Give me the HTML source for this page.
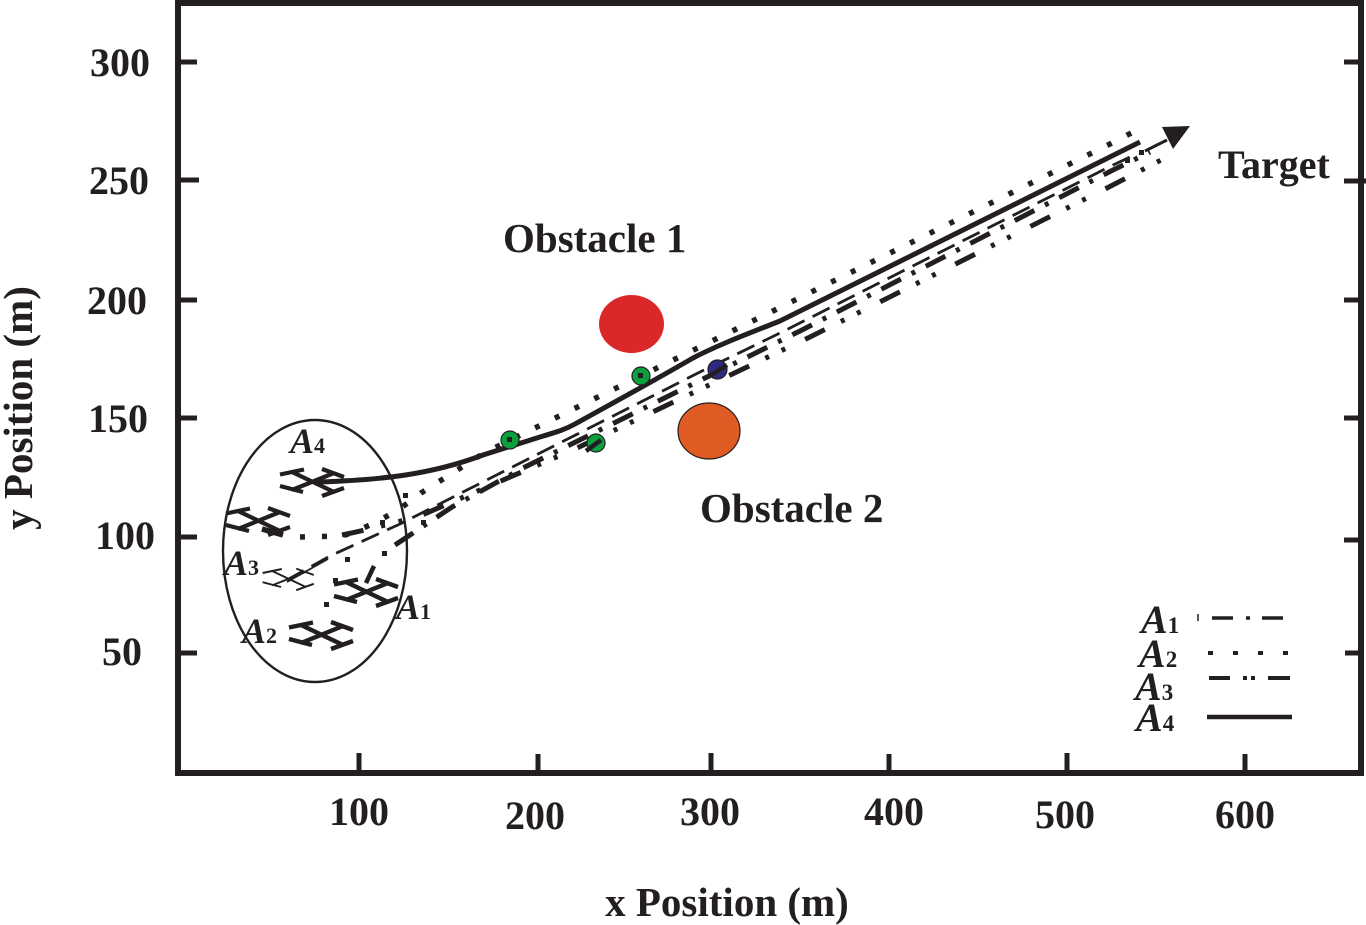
<!DOCTYPE html>
<html>
<head>
<meta charset="utf-8">
<style>
  html, body { margin:0; padding:0; background:#fff; }
  svg { display:block; }
  text { font-family: "Liberation Serif", "Times New Roman", serif; fill:#231f20; }
  .b { font-weight:bold; }
</style>
</head>
<body>
<svg width="1366" height="925" viewBox="0 0 1366 925" xmlns="http://www.w3.org/2000/svg">
  <defs>
    <g id="plane" stroke="#231f20" stroke-linecap="butt" fill="none">
      <line x1="-21" y1="-10" x2="21" y2="10"/>
      <line x1="-21" y1="8" x2="21" y2="-9"/>
      <line x1="-33" y1="-7.5" x2="-9" y2="-12.5"/>
      <line x1="9" y1="-13" x2="31" y2="-5"/>
      <line x1="-33" y1="4" x2="-10" y2="10"/>
      <line x1="9" y1="14" x2="31" y2="6"/>
    </g>
  </defs>

  <!-- frame -->
  <rect x="178" y="3" width="1183" height="770" fill="none" stroke="#231f20" stroke-width="6"/>

  <!-- ticks -->
  <g stroke="#231f20" stroke-width="5">
    <line x1="181" y1="62" x2="197" y2="62"/>
    <line x1="181" y1="180" x2="199" y2="180"/>
    <line x1="181" y1="300" x2="197" y2="300"/>
    <line x1="181" y1="418" x2="197" y2="418"/>
    <line x1="181" y1="537" x2="197" y2="537"/>
    <line x1="181" y1="653" x2="197" y2="653"/>
    <line x1="1344" y1="62" x2="1358" y2="62"/>
    <line x1="1344" y1="181" x2="1366" y2="181"/>
    <line x1="1344" y1="300" x2="1358" y2="300"/>
    <line x1="1344" y1="418" x2="1358" y2="418"/>
    <line x1="1344" y1="540" x2="1358" y2="540"/>
    <line x1="1345" y1="653" x2="1358" y2="653"/>
    <line x1="359" y1="770" x2="359" y2="753"/>
    <line x1="538" y1="770" x2="538" y2="754"/>
    <line x1="711" y1="770" x2="711" y2="753"/>
    <line x1="889" y1="770" x2="889" y2="754"/>
    <line x1="1067" y1="770" x2="1067" y2="753"/>
    <line x1="1245" y1="770" x2="1245" y2="754"/>
  </g>

  <!-- y tick labels -->
  <g font-size="40" text-anchor="end">
    <text x="150" y="76" class="b">300</text>
    <text x="149" y="194" class="b">250</text>
    <text x="147" y="314" class="b">200</text>
    <text x="148" y="432" class="b">150</text>
    <text x="155" y="549" class="b">100</text>
    <text x="142" y="665" class="b">50</text>
  </g>
  <!-- x tick labels -->
  <g font-size="40" text-anchor="middle">
    <text x="359" y="825" class="b">100</text>
    <text x="535" y="829" class="b">200</text>
    <text x="710" y="825" class="b">300</text>
    <text x="894" y="825" class="b">400</text>
    <text x="1065" y="828" class="b">500</text>
    <text x="1245" y="828" class="b">600</text>
  </g>

  <!-- axis titles -->
  <text x="727" y="916" font-size="41" text-anchor="middle" class="b">x Position (m)</text>
  <text transform="translate(32,408) rotate(-90)" font-size="41" text-anchor="middle" class="b">y Position (m)</text>

  <!-- obstacles -->
  <ellipse cx="631.5" cy="324" rx="32.5" ry="29" fill="#da2727"/>
  <ellipse cx="709" cy="431" rx="31" ry="28" fill="#e05a23" stroke="#231f20" stroke-width="1.2"/>
  <text x="503" y="252" font-size="41" class="b">Obstacle 1</text>
  <text x="700" y="522" font-size="41" class="b">Obstacle 2</text>
  <text x="1218" y="178" font-size="40" class="b">Target</text>

  <!-- ellipse around start -->
  <ellipse cx="315" cy="551" rx="92" ry="131" fill="none" stroke="#231f20" stroke-width="2.4"/>

  <!-- A2 dotted trajectory -->
  <path d="M 300,537 L 342,536 Q 385,522 421,493 L 484,453 L 775,310 L 1112,143 L 1135,131"
        fill="none" stroke="#231f20" stroke-width="5.5" stroke-dasharray="5 17"/>

  <!-- thin dashed trajectory -->
  <path d="M 287,580 L 330,556 L 400,524 L 538,454 L 700,372 L 782,332 L 1109,167 L 1130,157"
        fill="none" stroke="#231f20" stroke-width="2.8" stroke-dasharray="19 9"/>
  <line x1="287" y1="582" x2="328" y2="559" stroke="#231f20" stroke-width="1.8"/>

  <!-- A1 dash-dot trajectory -->
  <path d="M 395,545 L 452,507 L 523,468 L 800,331 L 1113,170 L 1150,152"
        fill="none" stroke="#231f20" stroke-width="5" stroke-dasharray="22 12 4 12"/>
  <line x1="366" y1="583" x2="374" y2="566" stroke="#231f20" stroke-width="4.5"/>

  <!-- A3 dash-dot-dot trajectory -->
  <path d="M 342,535 Q 385,526 422,515 L 575,449 L 810,337 L 1107,188 L 1165,158"
        fill="none" stroke="#231f20" stroke-width="5" stroke-dasharray="22 18 4 14 4 22"/>

  <!-- A4 solid trajectory -->
  <path d="M 318,482 C 380,480 430,475 483,455 L 540,437 C 560,431 566,429 575,424 C 600,410 650,383 693,358 C 720,344 750,333 780,321 L 1140,142"
        fill="none" stroke="#231f20" stroke-width="5"/>
  <line x1="1145" y1="151" x2="1167" y2="140" stroke="#231f20" stroke-width="3"/>

  <!-- scattered dots near start -->
  <g fill="#231f20">
    <rect x="324" y="602" width="5" height="5"/>
    <rect x="333" y="578" width="5" height="5"/>
    <rect x="345" y="557" width="5" height="5"/>
    <rect x="382" y="551" width="5" height="5"/>
    <rect x="380" y="520" width="5" height="5"/>
    <rect x="403" y="493" width="5" height="5"/>
    <rect x="421" y="520" width="5" height="5"/>
    <rect x="1125" y="158" width="5" height="5"/>
    <rect x="1139" y="150" width="5" height="5"/>
  </g>
  <line x1="262" y1="529" x2="283" y2="535" stroke="#231f20" stroke-width="5.5"/>

  <!-- arrow head at target -->
  <polygon points="1162,127 1190,126 1173,149" fill="#231f20"/>

  <!-- waypoint circles -->
  <g stroke="#231f20" stroke-width="1.2">
    <circle cx="510" cy="440" r="9" fill="#0aa03e"/>
    <circle cx="641" cy="376" r="9" fill="#0aa03e"/>
    <circle cx="596" cy="443" r="9" fill="#0aa03e"/>
    <circle cx="717.5" cy="369.5" r="9.5" fill="#2d2a82"/>
  </g>
  <g fill="#231f20">
    <rect x="507" y="437" width="5" height="5"/>
    <rect x="638" y="373" width="5" height="5"/>
    <line x1="586" y1="451" x2="601" y2="440" stroke="#231f20" stroke-width="4.5"/>
    <line x1="708" y1="377" x2="727" y2="365" stroke="#231f20" stroke-width="4.5"/>
  </g>

  <!-- planes -->
  <use href="#plane" x="313" y="482" stroke-width="4.2"/>
  <use href="#plane" x="259" y="521" stroke-width="4.2"/>
  <g transform="translate(289,579) scale(0.8)"><use href="#plane" stroke-width="2.4"/></g>
  <use href="#plane" x="367" y="592" stroke-width="4.4"/>
  <use href="#plane" x="322" y="635" stroke-width="4.4"/>

  <!-- in-plot labels -->
  <text x="290" y="453" font-weight="bold"><tspan font-style="italic" font-size="36">A</tspan><tspan font-size="22">4</tspan></text>
  <text x="224" y="575" font-weight="bold"><tspan font-style="italic" font-size="36">A</tspan><tspan font-size="22">3</tspan></text>
  <text x="396" y="619" font-weight="bold"><tspan font-style="italic" font-size="36">A</tspan><tspan font-size="22">1</tspan></text>
  <text x="242" y="643" font-weight="bold"><tspan font-style="italic" font-size="36">A</tspan><tspan font-size="22">2</tspan></text>

  <!-- legend -->
  <text x="1141" y="633" font-weight="bold"><tspan font-style="italic" font-size="40">A</tspan><tspan font-size="23">1</tspan></text>
  <text x="1139" y="667" font-weight="bold"><tspan font-style="italic" font-size="40">A</tspan><tspan font-size="23">2</tspan></text>
  <text x="1135" y="700" font-weight="bold"><tspan font-style="italic" font-size="40">A</tspan><tspan font-size="23">3</tspan></text>
  <text x="1136" y="731" font-weight="bold"><tspan font-style="italic" font-size="40">A</tspan><tspan font-size="23">4</tspan></text>
  <g stroke="#231f20">
    <line x1="1198" y1="614" x2="1198" y2="621" stroke-width="1.5"/>
    <line x1="1212" y1="618" x2="1233" y2="618" stroke-width="3.5"/>
    <line x1="1246" y1="618" x2="1250" y2="618" stroke-width="3.5"/>
    <line x1="1262" y1="618" x2="1283" y2="618" stroke-width="3.5"/>
    <line x1="1208" y1="653" x2="1213" y2="653" stroke-width="4"/>
    <line x1="1233" y1="653" x2="1238" y2="653" stroke-width="4"/>
    <line x1="1258" y1="653" x2="1263" y2="653" stroke-width="4"/>
    <line x1="1283" y1="653" x2="1288" y2="653" stroke-width="4"/>
    <line x1="1209" y1="678" x2="1230" y2="678" stroke-width="4"/>
    <line x1="1243" y1="678" x2="1247" y2="678" stroke-width="4"/>
    <line x1="1251" y1="678" x2="1255" y2="678" stroke-width="4"/>
    <line x1="1268" y1="678" x2="1290" y2="678" stroke-width="4"/>
    <line x1="1207" y1="717" x2="1292" y2="717" stroke-width="4.5"/>
  </g>
</svg>
</body>
</html>
